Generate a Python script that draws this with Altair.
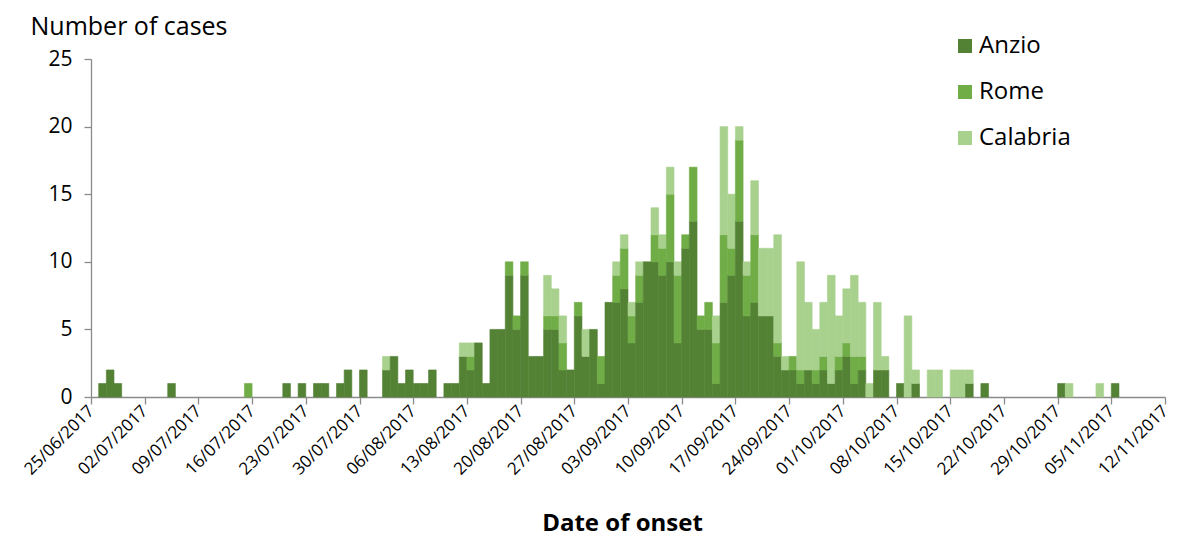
import altair as alt
import pandas as pd

# ---- data ----
dates = [
    "26/06/2017", "27/06/2017", "28/06/2017", "05/07/2017", "15/07/2017", "20/07/2017",
    "22/07/2017", "24/07/2017", "25/07/2017", "27/07/2017", "28/07/2017", "30/07/2017",
    "02/08/2017", "03/08/2017", "04/08/2017", "05/08/2017", "06/08/2017", "07/08/2017",
    "08/08/2017", "10/08/2017", "11/08/2017", "12/08/2017", "13/08/2017", "14/08/2017",
    "15/08/2017", "16/08/2017", "17/08/2017", "18/08/2017", "19/08/2017", "20/08/2017",
    "21/08/2017", "22/08/2017", "23/08/2017", "24/08/2017", "25/08/2017", "26/08/2017",
    "27/08/2017", "28/08/2017", "29/08/2017", "30/08/2017", "31/08/2017", "01/09/2017",
    "02/09/2017", "03/09/2017", "04/09/2017", "05/09/2017", "06/09/2017", "07/09/2017",
    "08/09/2017", "09/09/2017", "10/09/2017", "11/09/2017", "12/09/2017", "13/09/2017",
    "14/09/2017", "15/09/2017", "16/09/2017", "17/09/2017", "18/09/2017", "19/09/2017",
    "20/09/2017", "21/09/2017", "22/09/2017", "23/09/2017", "24/09/2017", "25/09/2017",
    "26/09/2017", "27/09/2017", "28/09/2017", "29/09/2017", "30/09/2017", "01/10/2017",
    "02/10/2017", "03/10/2017", "04/10/2017", "05/10/2017", "06/10/2017", "08/10/2017",
    "09/10/2017", "10/10/2017", "12/10/2017", "13/10/2017", "15/10/2017", "16/10/2017",
    "17/10/2017", "19/10/2017", "29/10/2017", "30/10/2017", "03/11/2017", "05/11/2017",
]
anzio = [
    1, 2, 1, 1, 0, 1,
    1, 1, 1, 1, 2, 2,
    2, 3, 1, 2, 1, 1,
    2, 1, 1, 3, 2, 4,
    1, 5, 5, 9, 5, 9,
    3, 3, 5, 5, 2, 2,
    6, 3, 5, 1, 7, 7,
    8, 4, 7, 10, 10, 9,
    10, 4, 11, 13, 5, 5,
    1, 7, 9, 13, 6, 7,
    6, 6, 3, 2, 2, 1,
    2, 1, 2, 1, 2, 3,
    1, 2, 0, 2, 2, 1,
    0, 1, 0, 0, 0, 0,
    1, 1, 1, 0, 0, 1,
]
rome = [
    0, 0, 0, 0, 1, 0,
    0, 0, 0, 0, 0, 0,
    0, 0, 0, 0, 0, 0,
    0, 0, 0, 0, 1, 0,
    0, 0, 0, 1, 1, 1,
    0, 0, 1, 1, 2, 0,
    1, 0, 0, 2, 0, 2,
    3, 2, 2, 0, 2, 2,
    5, 5, 1, 4, 1, 2,
    3, 5, 2, 6, 3, 5,
    0, 0, 1, 0, 1, 1,
    0, 1, 1, 0, 1, 1,
    2, 1, 0, 0, 0, 0,
    0, 0, 0, 0, 0, 0,
    0, 0, 0, 0, 0, 0,
]
calabria = [
    0, 0, 0, 0, 0, 0,
    0, 0, 0, 0, 0, 0,
    1, 0, 0, 0, 0, 0,
    0, 0, 0, 1, 1, 0,
    0, 0, 0, 0, 0, 0,
    0, 0, 3, 2, 2, 0,
    0, 2, 0, 0, 0, 1,
    1, 1, 1, 0, 2, 1,
    2, 1, 0, 0, 0, 0,
    2, 8, 4, 1, 1, 4,
    5, 5, 8, 1, 0, 8,
    5, 3, 4, 8, 3, 4,
    6, 4, 1, 5, 1, 0,
    6, 1, 2, 2, 2, 2,
    1, 0, 0, 1, 1, 0,
]
regions = ["Anzio", "Rome", "Calabria"]
colors = ["#548235", "#70AD47", "#A9D18E"]
tick_labels = [
    "25/06/2017", "02/07/2017", "09/07/2017", "16/07/2017", "23/07/2017",
    "30/07/2017", "06/08/2017", "13/08/2017", "20/08/2017", "27/08/2017",
    "03/09/2017", "10/09/2017", "17/09/2017", "24/09/2017", "01/10/2017",
    "08/10/2017", "15/10/2017", "22/10/2017", "29/10/2017", "05/11/2017",
    "12/11/2017",
]
y_ticks = [0, 5, 10, 15, 20, 25]

# ---- build long table ----
start = pd.to_datetime(tick_labels[0], format="%d/%m/%Y")
rows = []
for d, a, r, c in zip(dates, anzio, rome, calabria):
    day = (pd.to_datetime(d, format="%d/%m/%Y") - start).days
    for k, (reg, v) in enumerate(zip(regions, [a, r, c])):
        if v:
            rows.append({"day": day, "day_end": day + 1, "region": reg,
                         "order": k, "cases": v})
df = pd.DataFrame(rows)

n_days = (len(tick_labels) - 1) * 7
label_js = "[" + ",".join("'%s'" % t for t in tick_labels) + "]"
FONT = "Open Sans"
color_scale = alt.Scale(domain=regions, range=colors)

chart = alt.Chart(df).transform_stack(
    stack="cases", groupby=["day"], as_=["y0", "y1"],
    sort=[alt.SortField("order", order="ascending")],
).mark_bar(strokeWidth=0.6).encode(
    x=alt.X("day:Q",
            scale=alt.Scale(domain=[0, n_days], nice=False, zero=False),
            axis=alt.Axis(values=list(range(0, n_days + 1, 7)),
                          labelExpr=label_js + "[round(datum.value/7)]",
                          labelAngle=-45, labelAlign="right", labelBaseline="middle",
                          labelFontSize=17, labelPadding=4, labelOverlap=False,
                          labelFlush=False, tickSize=7,
                          title="Date of onset", titleFontSize=24, titleFontWeight="bold",
                          titleX=531, titleY=133, titleAlign="center",
                          titleBaseline="alphabetic")),
    x2="day_end:Q",
    y=alt.Y("y0:Q",
            scale=alt.Scale(domain=[0, 25], nice=False),
            axis=alt.Axis(values=y_ticks, labelFontSize=21, labelPadding=12, tickSize=7,
                          title="Number of cases", titleFontSize=25,
                          titleFontWeight="normal", titleAngle=0,
                          titleX=-61, titleY=-25, titleAlign="left",
                          titleBaseline="alphabetic")),
    y2="y1:Q",
    color=alt.Color("region:N", scale=color_scale, sort=regions,
                    legend=alt.Legend(orient="none", legendX=862, legendY=-25,
                                      title=None, symbolType="square", symbolSize=196,
                                      symbolStrokeWidth=0, labelFontSize=24,
                                      labelFont=FONT, labelColor="#000",
                                      rowPadding=22, labelOffset=2, padding=0)),
    stroke=alt.Stroke("region:N", scale=color_scale, legend=None),
).properties(
    width=1074, height=338,
    autosize=alt.AutoSizeParams(type="none"),
    padding={"left": 83, "top": 51, "right": 10, "bottom": 142},
).configure_view(
    stroke=None
).configure_axis(
    grid=False, domainColor="#8a8a8a", tickColor="#8a8a8a", domainWidth=1.3,
    tickWidth=1.3, labelFont=FONT, titleFont=FONT, labelColor="#000",
    titleColor="#000",
)

chart.save("out.html", embed_options={"renderer": "svg", "actions": False})
